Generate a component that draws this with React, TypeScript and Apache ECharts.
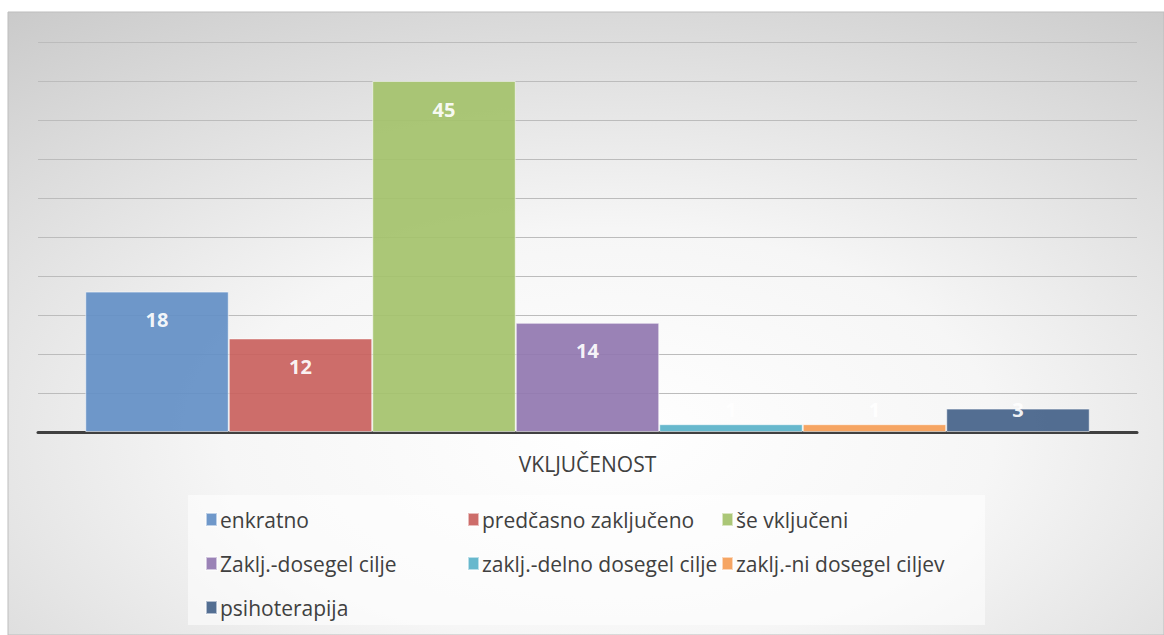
import React, { useEffect, useRef } from "react";
import * as echarts from "echarts";

const categories = ["VKLJUČENOST"];
const seriesNames = [
  "enkratno",
  "predčasno zaključeno",
  "še vključeni",
  "Zaklj.-dosegel cilje",
  "zaklj.-delno dosegel cilje",
  "zaklj.-ni dosegel ciljev",
  "psihoterapija",
];
const seriesValues = [18, 12, 45, 14, 1, 1, 3];
const seriesColors = ["#6490c6", "#c9625f", "#a5c36d", "#9278b0", "#5bb3c9", "#f59e57", "#46638a"];
const legendColumns = [
  ["enkratno", "Zaklj.-dosegel cilje", "psihoterapija"],
  ["predčasno zaključeno", "zaklj.-delno dosegel cilje"],
  ["še vključeni", "zaklj.-ni dosegel ciljev"],
];
const legendLefts = [200, 462, 716];

const FONT = "'Open Sans', sans-serif";

export default function App() {
  const ref = useRef<HTMLDivElement>(null);
  useEffect(() => {
    if (!ref.current) return;
    const chart = echarts.init(ref.current, null, { renderer: "svg" });
    const series = seriesNames.map((name, i) => {
      const small = seriesValues[i] < 5;
      return {
        name,
        type: "bar",
        data: [seriesValues[i]],
        barGap: "0%",
        barCategoryGap: "8.6%",
        itemStyle: { color: seriesColors[i], opacity: 0.93, borderColor: "rgba(255,255,255,0.6)", borderWidth: 1 },
        label: {
          show: true,
          position: small ? "insideBottom" : "insideTop",
          distance: small ? 13 : 18,
          color: "#ffffff",
          fontFamily: FONT,
          fontWeight: "bold",
          fontSize: 20,
        },
        z: 3,
      };
    });
    chart.setOption({
      animation: false,
      backgroundColor: "#ffffff",
      graphic: [
        {
          type: "rect",
          z: -10,
          silent: true,
          shape: { x: 8, y: 12, width: 1156, height: 623 },
          style: {
            fill: {
              type: "radial",
              x: 0.52,
              y: 0.68,
              r: 0.95,
              colorStops: [
                { offset: 0, color: "#ffffff" },
                { offset: 0.35, color: "#f6f6f6" },
                { offset: 1, color: "#c2c2c2" },
              ],
            },
            stroke: "#bdbdbd",
            lineWidth: 1,
          },
        },
        {
          type: "rect",
          z: -9,
          silent: true,
          shape: { x: 188, y: 495, width: 797, height: 130 },
          style: { fill: "rgba(255,255,255,0.55)" },
        },
      ],
      grid: { left: 38, right: 27, top: 42, bottom: 203, containLabel: false },
      xAxis: {
        type: "category",
        data: categories,
        axisLine: { show: true, lineStyle: { color: "#404040", width: 3 } },
        axisTick: { show: false },
        axisLabel: { color: "#404040", fontFamily: FONT, fontSize: 21, margin: 21 },
      },
      yAxis: {
        type: "value",
        min: 0,
        max: 50,
        interval: 5,
        axisLine: { show: false },
        axisTick: { show: false },
        axisLabel: { show: false },
        splitLine: { show: true, lineStyle: { color: "#bcbcbc", width: 1 } },
      },
      legend: legendColumns.map((col, i) => ({
        data: col,
        orient: "vertical",
        left: legendLefts[i],
        top: 504,
        itemGap: 23,
        itemWidth: 11,
        itemHeight: 13,
        icon: "rect",
        selectedMode: false,
        textStyle: { color: "#404040", fontFamily: FONT, fontSize: 21, padding: [0, 0, 0, -2] },
      })),
      series,
    });
    return () => chart.dispose();
  }, []);
  return <div ref={ref} style={{ position: "fixed", left: 0, top: 0, width: 1164, height: 635 }} />;
}
